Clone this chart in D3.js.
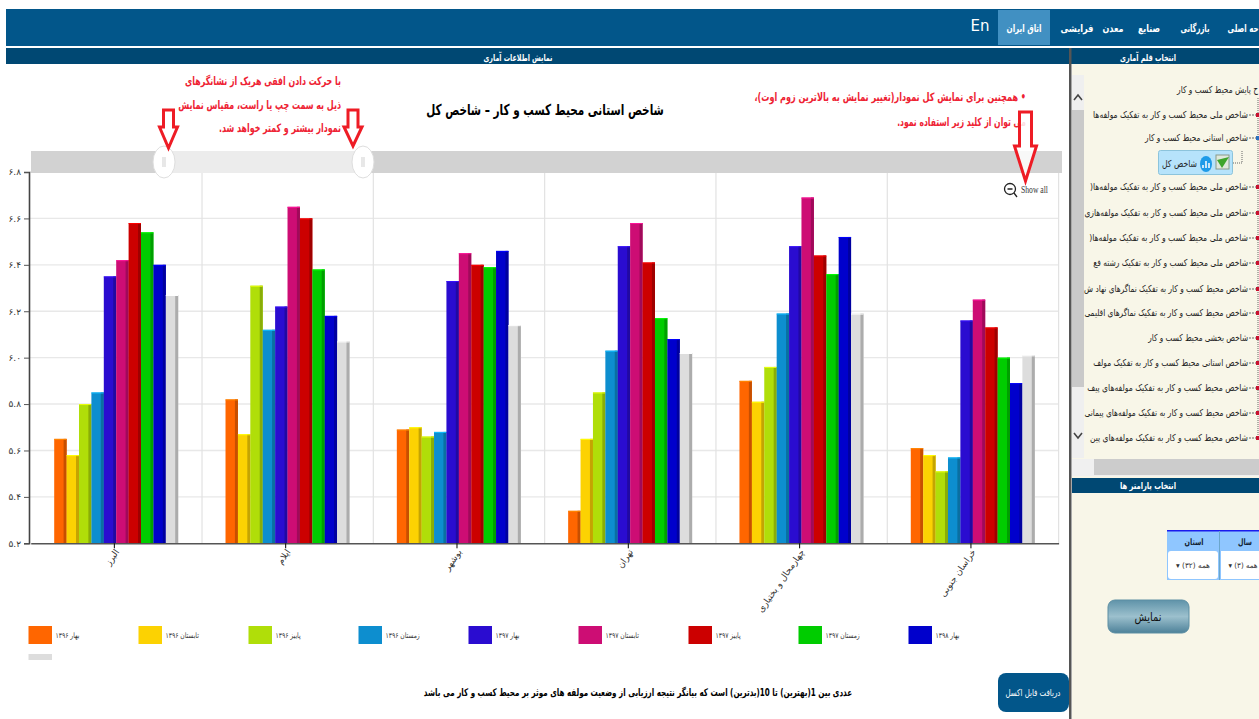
<!doctype html>
<html lang="fa">
<head>
<meta charset="utf-8">
<script src="https://d3js.org/d3.v7.min.js"></script>
<style>
    html, body {margin: 0; padding: 0; background: #fff; overflow: hidden;}
    svg {display: block;}
    text {font-family: "DejaVu Sans", sans-serif;}
</style>
</head>
<body>
<svg width="1259" height="719"></svg>
<script>
const provinces = ["البرز", "ایلام", "بوشهر", "تهران", "چهارمحال و بختیاری", "خراسان جنوبی"];
const seasons = ["بهار ۱۳۹۶", "تابستان ۱۳۹۶", "پاییز ۱۳۹۶", "زمستان ۱۳۹۶", "بهار ۱۳۹۷", "تابستان ۱۳۹۷", "پاییز ۱۳۹۷", "زمستان ۱۳۹۷", "بهار ۱۳۹۸", ""];
const seasonColors = ["#FF6600", "#FCD202", "#B0DE09", "#0D8ECF", "#2A0CD0", "#CD0D74", "#CC0000", "#00CC00", "#0000CC", "#DDDDDD"];

// one row per province, one value per season
const alborz = [5.65, 5.58, 5.80, 5.85, 6.35, 6.42, 6.58, 6.54, 6.40, 6.27];
const ilam = [5.82, 5.67, 6.31, 6.12, 6.22, 6.65, 6.60, 6.38, 6.18, 6.07];
const bushehr = [5.69, 5.70, 5.66, 5.68, 6.33, 6.45, 6.40, 6.39, 6.46, 6.14];
const tehran = [5.34, 5.65, 5.85, 6.03, 6.48, 6.58, 6.41, 6.17, 6.08, 6.02];
const chaharmahal = [5.90, 5.81, 5.96, 6.19, 6.48, 6.69, 6.44, 6.36, 6.52, 6.19];
const khorasan = [5.61, 5.58, 5.51, 5.57, 6.16, 6.25, 6.13, 6.00, 5.89, 6.01];
const provinceValues = [alborz, ilam, bushehr, tehran, chaharmahal, khorasan];

const yTicks = [5.2, 5.4, 5.6, 5.8, 6.0, 6.2, 6.4, 6.6, 6.8];
const yTickLabels = ["۵.۲", "۵.۴", "۵.۶", "۵.۸", "۶.۰", "۶.۲", "۶.۴", "۶.۶", "۶.۸"];

const navItems = ["حه اصلی", "بازرگانی", "صنایع", "معدن", "فرایشی", "اتاق ایران"];
const treeItems = [
    "ح پایش محیط کسب و کار",
    "شاخص ملی محیط کسب و کار به تفکیک مولفه‌ها",
    "شاخص استانی محیط کسب و کار",
    "",
    "شاخص ملی محیط کسب و کار به تفکیک مولفه‌ها(",
    "شاخص ملی محیط کسب و کار به تفکیک مولفه‌هازی",
    "شاخص ملی محیط کسب و کار به تفکیک مولفه‌ها(",
    "شاخص ملی محیط کسب و کار به تفکیک رشته فع",
    "شاخص محیط کسب و کار به تفکیک نماگرهای نهاد ش",
    "شاخص محیط کسب و کار به تفکیک نماگرهای اقلیمی",
    "شاخص بخشی محیط کسب و کار",
    "شاخص استانی محیط کسب و کار به تفکیک مولف",
    "شاخص محیط کسب و کار به تفکیک مولفه‌های پیف",
    "شاخص محیط کسب و کار به تفکیک مولفه‌های پیمانی",
    "شاخص محیط کسب و کار به تفکیک مولفه‌های پین"
];

const svg = d3.select("svg");

// small helper, all the page text goes through here
// the text is rtl, so anchor "start" is its right edge
// o.width squeezes the text sideways to the width it has in the picture
function label(parent, x, y, str, o) {
    o = o || {};
    const t = parent.append("text")
        .attr("direction", o.ltr ? "ltr" : "rtl")
        .attr("text-anchor", o.anchor || "middle")
        .attr("font-size", o.size || 10)
        .attr("font-weight", o.bold ? "bold" : "normal")
        .attr("fill", o.fill || "#111")
        .text(str);
    if (o.family) t.style("font-family", o.family);
    var k = o.width ? o.width / t.node().getComputedTextLength() : 1;
    t.attr("transform", "translate(" + x + "," + y + ") scale(" + k + ",1)");
    return t;
}

function box(parent, x, y, w, h, fill) {
    return parent.append("rect").attr("x", x).attr("y", y).attr("width", w).attr("height", h).attr("fill", fill);
}

var defs = svg.append("defs");
var btnGrad = defs.append("linearGradient").attr("id", "btnGrad").attr("x1", 0).attr("y1", 0).attr("x2", 0).attr("y2", 1);
btnGrad.append("stop").attr("offset", "0%").attr("stop-color", "#5f93a9");
btnGrad.append("stop").attr("offset", "50%").attr("stop-color", "#9cc0cd");
btnGrad.append("stop").attr("offset", "100%").attr("stop-color", "#4d8199");

// page header
const page = svg.append("g");
box(page, 6, 9, 1253, 37, "#02568a");
box(page, 6, 48, 1253, 16, "#004873");
box(page, 998, 10, 52, 35, "#4190c2");
const navX = [1243, 1195, 1149, 1113, 1077, 1024];
const navW = [31, 29, 22, 21, 33, 35];
navItems.forEach(function(d, i) {
    label(page, navX[i], 32, d, {size: 10.5, bold: true, fill: "#fff", width: navW[i]});
});
label(page, 980, 31, "En", {size: 15, fill: "#fff", ltr: true});
label(page, 518, 61, "نمایش اطلاعات آماری", {size: 9.5, bold: true, fill: "#fff", width: 69});
label(page, 1148, 61, "انتخاب قلم آماری", {size: 9.5, bold: true, fill: "#fff", width: 56});

// right hand panel
const panel = svg.append("g");
box(panel, 1072, 64, 187, 655, "#f8f6e8");
box(panel, 1069, 48, 2.5, 671, "#555");
box(panel, 1072, 75, 12, 383, "#efefef");
box(panel, 1072, 110, 12, 277, "#c9c9c9");
panel.append("path").attr("d", "M1074 100 L1078 95 L1082 100").attr("fill", "none").attr("stroke", "#444").attr("stroke-width", 1.6);
panel.append("path").attr("d", "M1074 433 L1078 438 L1082 433").attr("fill", "none").attr("stroke", "#444").attr("stroke-width", 1.6);
box(panel, 1072, 459, 187, 17, "#f0f0f0");
box(panel, 1094, 459, 165, 16, "#cccccc");
box(panel, 1072, 478, 187, 15, "#004873");
label(panel, 1148, 489, "انتخاب پارامتر ها", {size: 9.5, bold: true, fill: "#fff", width: 56});

// tree of statistics
const tree = panel.append("g");
const treeY = [90, 115, 138, 163, 187, 213, 238, 263, 289, 313, 338, 363, 388, 413, 438];
const treeW = [81, 155, 103, 0, 158, 164, 159, 155, 164, 164, 100, 155, 161, 164, 158];
tree.append("line").attr("x1", 1258).attr("x2", 1258).attr("y1", 98).attr("y2", 440)
    .attr("stroke", "#666").attr("stroke-dasharray", "1,1");
treeItems.forEach(function(d, i) {
    if (d === "") return;
    label(tree, i === 0 ? 1258 : 1248, treeY[i] + 3, d, {anchor: "start", size: 9.5, fill: "#222", width: treeW[i]});
    if (i > 0) {
        tree.append("line").attr("x1", 1249).attr("x2", 1256).attr("y1", treeY[i]).attr("y2", treeY[i])
            .attr("stroke", "#666").attr("stroke-dasharray", "2,1");
        box(tree, 1256, treeY[i] - 2, 3, 4, i === 2 ? "#2a6fc0" : "#c8102e");
    }
});
panel.append("path").attr("d", "M1233 163 H1242 V150").attr("fill", "none").attr("stroke", "#666").attr("stroke-dasharray", "1,1");
panel.append("rect").attr("x", 1158.5).attr("y", 150.5).attr("width", 74).attr("height", 24).attr("rx", 2)
    .attr("fill", "#b6e3fb").attr("stroke", "#8cc4dc");
box(panel, 1216, 155, 13, 14, "#dfe8dc").attr("stroke", "#8a9a8a");
panel.append("path").attr("d", "M1217 160 L1222 168 L1229 157 Z").attr("fill", "#3ea52c");
panel.append("ellipse").attr("cx", 1206).attr("cy", 164).attr("rx", 6).attr("ry", 8).attr("fill", "#1e9be8");
panel.append("path").attr("d", "M1203 168 V165 M1206 168 V161 M1209 168 V163").attr("stroke", "#fff").attr("stroke-width", 1.5);
label(panel, 1197, 167, "شاخص کل", {anchor: "start", size: 9.5, fill: "#222", width: 35});

// parameter table
box(panel, 1167, 530, 92, 50, "#8fc6ff");
box(panel, 1167, 530, 92, 1.5, "#1a1aee");
box(panel, 1219, 531, 1, 49, "#6aa6cc");
label(panel, 1194, 545, "استان", {size: 9, bold: true, fill: "#123", width: 19});
label(panel, 1245, 545, "سال", {size: 9, bold: true, fill: "#123", width: 14});
panel.append("rect").attr("x", 1168).attr("y", 551).attr("width", 50).attr("height", 28).attr("rx", 3).attr("fill", "#fff");
panel.append("rect").attr("x", 1221).attr("y", 551).attr("width", 38).attr("height", 28).attr("fill", "#fff");
label(panel, 1193, 568, "همه (۳۲) ▾", {size: 7.5, fill: "#333", width: 34});
label(panel, 1243, 568, "همه (۳) ▾", {size: 7.5, fill: "#333", width: 29});
panel.append("rect").attr("x", 1108).attr("y", 600).attr("width", 81).attr("height", 33).attr("rx", 7)
    .attr("fill", "url(#btnGrad)").attr("stroke", "#5c8ea3");
label(panel, 1148, 621, "نمایش", {size: 12, fill: "#111", width: 27});

// chart
const x0 = d3.scaleBand().domain(provinces).range([30.7, 1058.6]);
const x1 = d3.scaleBand().domain(d3.range(seasons.length)).range([23.5, 147.5]);
const y = d3.scaleLinear().domain([5.2, 6.8]).range([543.3, 172]);

const chart = svg.append("g");

// grid
chart.append("g").selectAll("line").data(yTicks.slice(1)).enter().append("line")
    .attr("x1", 30).attr("x2", 1058)
    .attr("y1", function(d) {return y(d)}).attr("y2", function(d) {return y(d)})
    .attr("stroke", "#e8e8e8").attr("stroke-width", 1.4);
chart.append("g").selectAll("line").data(provinces.slice(1).concat([null])).enter().append("line")
    .attr("x1", function(d) {return d === null ? x0.range()[1] : x0(d)})
    .attr("x2", function(d) {return d === null ? x0.range()[1] : x0(d)})
    .attr("y1", y(6.8)).attr("y2", y(5.2))
    .attr("stroke", "#e2e2e2").attr("stroke-width", 1.2);

// bars, with the flat 3d side on the right and a light top edge
const groups = chart.append("g").selectAll("g").data(provinceValues).enter().append("g")
    .attr("transform", function(d, i) {return "translate(" + x0(provinces[i]) + ",0)"});
const bars = groups.selectAll("g").data(function(d) {return d}).enter().append("g");
bars.append("rect")
    .attr("x", function(d, i) {return x1(i)})
    .attr("y", function(d) {return y(d)})
    .attr("width", x1.bandwidth())
    .attr("height", function(d) {return y(5.2) - y(d)})
    .attr("fill", function(d, i) {return seasonColors[i]});
bars.append("rect")
    .attr("x", function(d, i) {return x1(i) + x1.bandwidth() - 3})
    .attr("y", function(d) {return y(d)})
    .attr("width", 3)
    .attr("height", function(d) {return y(5.2) - y(d)})
    .attr("fill", function(d, i) {return d3.color(seasonColors[i]).darker(0.7)});
bars.append("rect")
    .attr("x", function(d, i) {return x1(i)})
    .attr("y", function(d) {return y(d)})
    .attr("width", x1.bandwidth())
    .attr("height", 1)
    .attr("fill", function(d, i) {return d3.color(seasonColors[i]).brighter(0.8)});

// axes
const yAxis = chart.append("g").attr("transform", "translate(29,0)")
    .call(d3.axisLeft(y).tickValues(yTicks).tickSize(5).tickPadding(3).tickFormat(function(d, i) {return yTickLabels[i]}));
yAxis.select(".domain").attr("stroke", "#444").attr("stroke-width", 1.6);
yAxis.selectAll("line").attr("stroke", "#555");
yAxis.selectAll("text").style("font-size", "9px").attr("fill", "#333");

const xAxis = chart.append("g").attr("transform", "translate(-2,543.3)")
    .call(d3.axisBottom(x0).tickSize(5).tickSizeOuter(0));
xAxis.select(".domain").attr("stroke", "#555").attr("stroke-width", 1.6).attr("transform", "translate(2,0)");
xAxis.selectAll("text")
    .attr("direction", "rtl")
    .attr("text-anchor", "start")
    .attr("transform", "translate(3,7) rotate(-55)")
    .attr("x", 0).attr("y", 0).attr("dy", "0.3em")
    .style("font-size", "9px").attr("fill", "#333");

// legend
const legend = svg.append("g").selectAll("g").data(seasons).enter().append("g")
    .attr("transform", function(d, i) {return i < 9 ? "translate(" + (28.5 + i * 110) + ",626)" : "translate(28.5,654)"});
legend.append("rect").attr("width", 23.5)
    .attr("height", function(d, i) {return i < 9 ? 18 : 6})
    .attr("fill", function(d, i) {return seasonColors[i]});
legend.filter(function(d) {return d !== ""}).append("text")
    .attr("direction", "rtl").attr("text-anchor", "end")
    .attr("transform", "translate(27,12) scale(0.8,1)")
    .attr("font-size", 7.5).attr("fill", "#333")
    .text(function(d) {return d});

// zoom slider above the plot
const slider = svg.append("g");
box(slider, 31, 151, 1031, 22, "#d2d2d2");
box(slider, 164, 151, 199, 22, "#ececec");
[164, 363].forEach(function(d) {
    slider.append("ellipse").attr("cx", d).attr("cy", 162).attr("rx", 11).attr("ry", 16)
        .attr("fill", "#fff").attr("stroke", "#dedede");
    slider.append("path").attr("d", "M" + (d - 1) + " 157 V167 M" + (d + 1) + " 157 V167").attr("stroke", "#bbb").attr("stroke-width", 0.7);
});

// title, notes and arrows
const notes = svg.append("g");
label(notes, 545, 115, "شاخص استانی محیط کسب و کار – شاخص کل", {size: 15, bold: true, fill: "#000", width: 238});
label(notes, 341, 85, "با حرکت دادن افقی هریک از نشانگرهای", {anchor: "start", size: 11.5, bold: true, fill: "#ee2233", width: 156});
label(notes, 341, 109, "ذیل به سمت چپ یا راست، مقیاس نمایش", {anchor: "start", size: 11.5, bold: true, fill: "#ee2233", width: 163});
label(notes, 341, 132, "نمودار بیشتر و کمتر خواهد شد.", {anchor: "start", size: 11.5, bold: true, fill: "#ee2233", width: 122});
label(notes, 1026, 101, "• همچنین برای نمایش کل نمودار(تغییر نمایش به بالاترین زوم اوت)،", {anchor: "start", size: 11.5, bold: true, fill: "#ee2233", width: 272});
label(notes, 1026, 126, "می توان از کلید زیر استفاده نمود.", {anchor: "start", size: 11.5, bold: true, fill: "#ee2233", width: 129});

function arrow(cx, top, neck, tip, shaft, head) {
    notes.append("path")
        .attr("d", "M" + (cx - shaft) + " " + top + " H" + (cx + shaft) + " V" + neck + " H" + (cx + head) + " L" + cx + " " + tip + " L" + (cx - head) + " " + neck + " H" + (cx - shaft) + " Z")
        .attr("fill", "#fff").attr("fill-opacity", 0.85).attr("stroke", "#ee1c25").attr("stroke-width", 3);
}
arrow(168.5, 110, 127, 148, 5, 9);
arrow(353, 110, 127, 146, 5, 9);
arrow(1025.5, 112, 146, 181, 6, 11);

// show all
notes.append("circle").attr("cx", 1010).attr("cy", 189).attr("r", 5.5).attr("fill", "none").attr("stroke", "#222").attr("stroke-width", 1.3);
notes.append("path").attr("d", "M1007.5 189 H1012.5 M1014 193 L1017 197").attr("stroke", "#222").attr("stroke-width", 1.3);
label(notes, 1021, 193, "Show all", {anchor: "start", size: 10, fill: "#333", family: "'Liberation Serif', serif", width: 27, ltr: true});

// footer
label(notes, 638, 696, "عددی بین 1(بهترین) تا 10(بدترین) است که بیانگر نتیجه ارزیابی از وضعیت مولفه های موثر بر محیط کسب و کار می باشد", {size: 10.5, bold: true, fill: "#000", width: 429});
notes.append("rect").attr("x", 998).attr("y", 673).attr("width", 71).attr("height", 39).attr("rx", 8).attr("fill", "#02568a");
label(notes, 1033, 696, "دریافت فایل اکسل", {size: 9.5, fill: "#fff", width: 55});
</script>
</body>
</html>
